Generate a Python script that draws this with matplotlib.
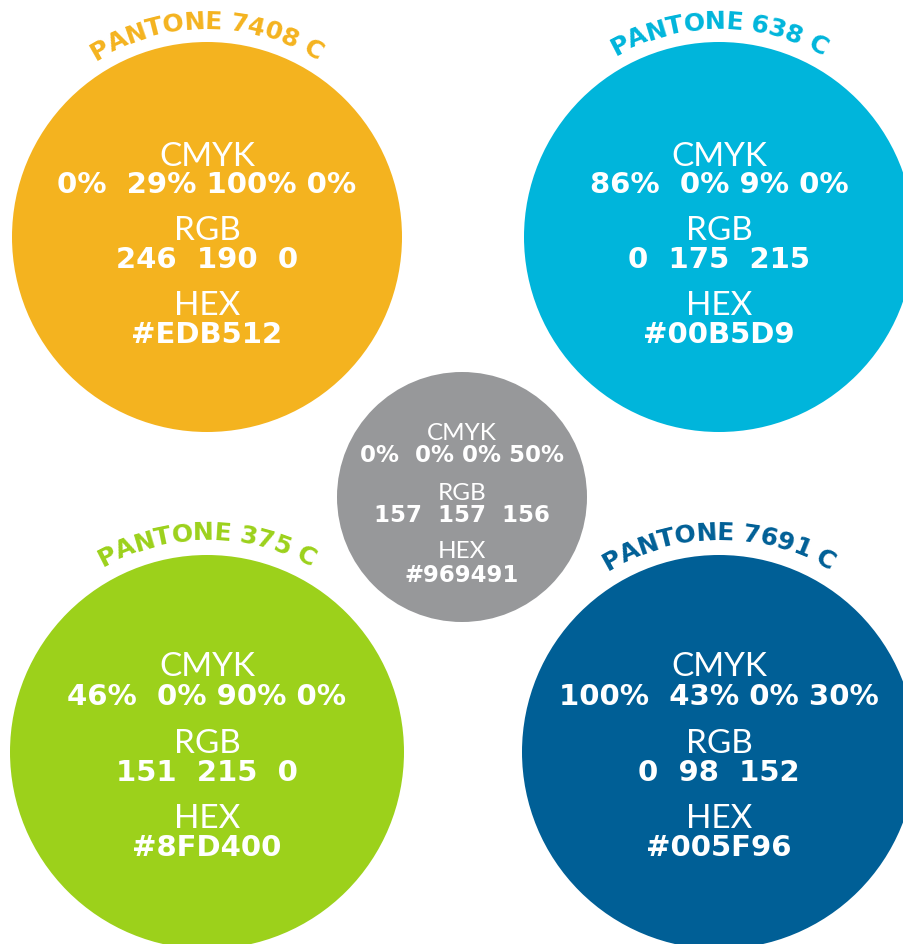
import matplotlib
matplotlib.use("Agg")
import matplotlib.pyplot as plt
from matplotlib.patches import Circle
from matplotlib.font_manager import FontProperties
import numpy as np

# ---- data ----
swatch_names = ["PANTONE 7408 C", "PANTONE 638 C", "PANTONE 375 C", "PANTONE 7691 C", ""]
cmyk_values = ["0%  29% 100% 0%", "86%  0% 9% 0%", "46%  0% 90% 0%", "100%  43% 0% 30%", "0%  0% 0% 50%"]
rgb_values = ["246  190  0", "0  175  215", "151  215  0", "0  98  152", "157  157  156"]
hex_values = ["#EDB512", "#00B5D9", "#8FD400", "#005F96", "#969491"]
fill_colors = ["#F4B31F", "#00B5DB", "#9CD11B", "#005F96", "#97989A"]

# ---- layout (pixels, y down) ----
W, H = 904, 944
centers = [(207, 237), (719, 237), (207, 752), (719, 752), (462, 497)]
radii = [195, 195, 197, 197, 125]
arc_radius = [208, 208, 212, 212, 0]
label_rows = [  # y positions of CMYK, values, RGB, values, HEX, value
    [157, 185, 231, 260, 306, 335],
    [157, 185, 231, 260, 306, 335],
    [667, 697, 744, 773, 819, 848],
    [667, 697, 744, 773, 819, 848],
    [434, 456, 494, 516, 552, 575],
]

fig = plt.figure(figsize=(W / 100, H / 100), dpi=100)
ax = fig.add_axes([0, 0, 1, 1])
ax.set_xlim(0, W)
ax.set_ylim(H, 0)
ax.set_aspect("equal")
ax.axis("off")

renderer = fig.canvas.get_renderer()
arc_prop = FontProperties(family="DejaVu Sans", weight="bold", size=18)


def arc_text(text, cx, cy, r, color, prop, tracking=-0.5):
    widths = [renderer.get_text_width_height_descent(ch, prop, ismath=False)[0] for ch in text]
    widths = [w + tracking for w in widths]
    total = sum(widths) - tracking
    pos = -total / 2.0
    for ch, w in zip(text, widths):
        mid = pos + (w - tracking) / 2.0
        th = mid / r
        x = cx + r * np.sin(th)
        y = cy - r * np.cos(th)
        ax.text(x, y, ch, fontproperties=prop, color=color, rotation=-np.degrees(th),
                rotation_mode="anchor", ha="center", va="baseline")
        pos += w


for i in range(5):
    cx, cy = centers[i]
    ax.add_patch(Circle((cx, cy), radii[i], facecolor=fill_colors[i], edgecolor="none"))
    small = i == 4
    lab_size = 17.5 if small else 24
    val_size = 16.5 if small else 21
    rows = label_rows[i]
    texts = ["CMYK", cmyk_values[i], "RGB", rgb_values[i], "HEX", hex_values[i]]
    for k, (t, y) in enumerate(zip(texts, rows)):
        bold = k % 2 == 1
        if bold:
            ax.text(cx, y, t, color="white", ha="center", va="center",
                    fontsize=val_size, fontweight="bold", family=["DejaVu Sans"])
        else:
            ax.text(cx, y, t, color="white", ha="center", va="center",
                    fontsize=lab_size, fontweight="normal", family=["Lato", "DejaVu Sans"])
    if swatch_names[i]:
        arc_text(swatch_names[i], cx, cy, arc_radius[i], fill_colors[i], arc_prop)

fig.savefig("out.png", dpi=100)
